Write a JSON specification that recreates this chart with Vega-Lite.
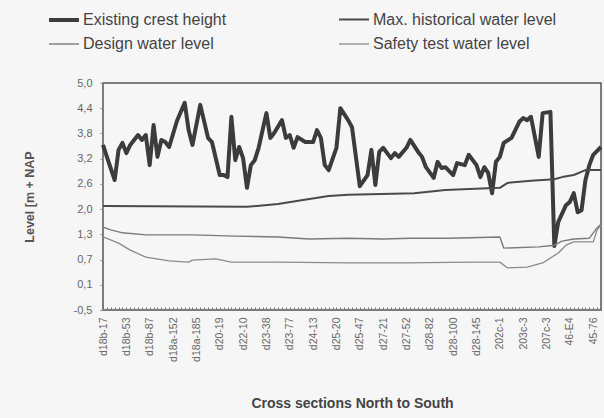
{
  "$schema": "https://vega.github.io/schema/vega-lite/v6.json",
  "width": 498,
  "height": 227,
  "autosize": {"type": "none"},
  "padding": {"left": 103, "top": 83, "right": 3, "bottom": 108},
  "background": "#f6f6f6",
  "config": {
    "font": "Liberation Sans",
    "view": {"stroke": "#555555", "strokeWidth": 1.5, "fill": "#f6f6f6"}
  },
  "data": {
    "values": [
      {"series": "Existing crest height", "i": 0, "level": 3.50},
      {"series": "Existing crest height", "i": 1, "level": 3.21},
      {"series": "Existing crest height", "i": 3, "level": 2.65},
      {"series": "Existing crest height", "i": 4, "level": 3.38},
      {"series": "Existing crest height", "i": 5, "level": 3.55},
      {"series": "Existing crest height", "i": 6, "level": 3.30},
      {"series": "Existing crest height", "i": 7, "level": 3.50},
      {"series": "Existing crest height", "i": 9, "level": 3.74},
      {"series": "Existing crest height", "i": 10, "level": 3.62},
      {"series": "Existing crest height", "i": 11, "level": 3.74},
      {"series": "Existing crest height", "i": 12, "level": 3.01},
      {"series": "Existing crest height", "i": 13, "level": 3.98},
      {"series": "Existing crest height", "i": 14, "level": 3.21},
      {"series": "Existing crest height", "i": 15, "level": 3.62},
      {"series": "Existing crest height", "i": 16, "level": 3.57},
      {"series": "Existing crest height", "i": 17, "level": 3.45},
      {"series": "Existing crest height", "i": 19, "level": 4.08},
      {"series": "Existing crest height", "i": 21, "level": 4.52},
      {"series": "Existing crest height", "i": 22, "level": 3.86},
      {"series": "Existing crest height", "i": 23, "level": 3.50},
      {"series": "Existing crest height", "i": 25, "level": 4.47},
      {"series": "Existing crest height", "i": 27, "level": 3.67},
      {"series": "Existing crest height", "i": 28, "level": 3.57},
      {"series": "Existing crest height", "i": 30, "level": 2.77},
      {"series": "Existing crest height", "i": 31, "level": 2.77},
      {"series": "Existing crest height", "i": 32, "level": 2.72},
      {"series": "Existing crest height", "i": 33, "level": 4.18},
      {"series": "Existing crest height", "i": 34, "level": 3.13},
      {"series": "Existing crest height", "i": 35, "level": 3.45},
      {"series": "Existing crest height", "i": 36, "level": 3.18},
      {"series": "Existing crest height", "i": 37, "level": 2.46},
      {"series": "Existing crest height", "i": 38, "level": 3.01},
      {"series": "Existing crest height", "i": 39, "level": 3.13},
      {"series": "Existing crest height", "i": 40, "level": 3.43},
      {"series": "Existing crest height", "i": 42, "level": 4.27},
      {"series": "Existing crest height", "i": 43, "level": 3.67},
      {"series": "Existing crest height", "i": 44, "level": 3.79},
      {"series": "Existing crest height", "i": 46, "level": 4.10},
      {"series": "Existing crest height", "i": 47, "level": 3.67},
      {"series": "Existing crest height", "i": 48, "level": 3.74},
      {"series": "Existing crest height", "i": 49, "level": 3.43},
      {"series": "Existing crest height", "i": 50, "level": 3.69},
      {"series": "Existing crest height", "i": 52, "level": 3.57},
      {"series": "Existing crest height", "i": 54, "level": 3.57},
      {"series": "Existing crest height", "i": 55, "level": 3.86},
      {"series": "Existing crest height", "i": 56, "level": 3.67},
      {"series": "Existing crest height", "i": 57, "level": 3.01},
      {"series": "Existing crest height", "i": 58, "level": 2.89},
      {"series": "Existing crest height", "i": 60, "level": 3.43},
      {"series": "Existing crest height", "i": 61, "level": 4.39},
      {"series": "Existing crest height", "i": 63, "level": 4.10},
      {"series": "Existing crest height", "i": 64, "level": 3.93},
      {"series": "Existing crest height", "i": 66, "level": 2.50},
      {"series": "Existing crest height", "i": 68, "level": 2.77},
      {"series": "Existing crest height", "i": 69, "level": 3.38},
      {"series": "Existing crest height", "i": 70, "level": 2.53},
      {"series": "Existing crest height", "i": 71, "level": 3.33},
      {"series": "Existing crest height", "i": 72, "level": 3.43},
      {"series": "Existing crest height", "i": 74, "level": 3.18},
      {"series": "Existing crest height", "i": 75, "level": 3.30},
      {"series": "Existing crest height", "i": 76, "level": 3.21},
      {"series": "Existing crest height", "i": 78, "level": 3.43},
      {"series": "Existing crest height", "i": 79, "level": 3.62},
      {"series": "Existing crest height", "i": 81, "level": 3.33},
      {"series": "Existing crest height", "i": 82, "level": 3.21},
      {"series": "Existing crest height", "i": 83, "level": 2.96},
      {"series": "Existing crest height", "i": 85, "level": 2.70},
      {"series": "Existing crest height", "i": 86, "level": 3.09},
      {"series": "Existing crest height", "i": 87, "level": 2.94},
      {"series": "Existing crest height", "i": 88, "level": 2.96},
      {"series": "Existing crest height", "i": 90, "level": 2.77},
      {"series": "Existing crest height", "i": 91, "level": 3.06},
      {"series": "Existing crest height", "i": 93, "level": 3.01},
      {"series": "Existing crest height", "i": 94, "level": 3.26},
      {"series": "Existing crest height", "i": 96, "level": 3.01},
      {"series": "Existing crest height", "i": 97, "level": 2.72},
      {"series": "Existing crest height", "i": 98, "level": 2.96},
      {"series": "Existing crest height", "i": 99, "level": 2.82},
      {"series": "Existing crest height", "i": 100, "level": 2.33},
      {"series": "Existing crest height", "i": 101, "level": 3.09},
      {"series": "Existing crest height", "i": 102, "level": 3.21},
      {"series": "Existing crest height", "i": 103, "level": 3.55},
      {"series": "Existing crest height", "i": 105, "level": 3.67},
      {"series": "Existing crest height", "i": 107, "level": 4.06},
      {"series": "Existing crest height", "i": 108, "level": 4.15},
      {"series": "Existing crest height", "i": 109, "level": 4.10},
      {"series": "Existing crest height", "i": 110, "level": 4.18},
      {"series": "Existing crest height", "i": 112, "level": 3.21},
      {"series": "Existing crest height", "i": 113, "level": 4.27},
      {"series": "Existing crest height", "i": 115, "level": 4.30},
      {"series": "Existing crest height", "i": 116, "level": 1.05},
      {"series": "Existing crest height", "i": 117, "level": 1.63},
      {"series": "Existing crest height", "i": 119, "level": 2.04},
      {"series": "Existing crest height", "i": 120, "level": 2.12},
      {"series": "Existing crest height", "i": 121, "level": 2.33},
      {"series": "Existing crest height", "i": 122, "level": 1.87},
      {"series": "Existing crest height", "i": 123, "level": 1.92},
      {"series": "Existing crest height", "i": 124, "level": 2.65},
      {"series": "Existing crest height", "i": 125, "level": 3.01},
      {"series": "Existing crest height", "i": 126, "level": 3.26},
      {"series": "Existing crest height", "i": 128, "level": 3.45},
      {"series": "Max. historical water level", "i": 0, "level": 2.02},
      {"series": "Max. historical water level", "i": 37, "level": 2.00},
      {"series": "Max. historical water level", "i": 45, "level": 2.07},
      {"series": "Max. historical water level", "i": 51, "level": 2.16},
      {"series": "Max. historical water level", "i": 58, "level": 2.26},
      {"series": "Max. historical water level", "i": 63, "level": 2.29},
      {"series": "Max. historical water level", "i": 80, "level": 2.33},
      {"series": "Max. historical water level", "i": 88, "level": 2.41},
      {"series": "Max. historical water level", "i": 102, "level": 2.46},
      {"series": "Max. historical water level", "i": 104, "level": 2.58},
      {"series": "Max. historical water level", "i": 110, "level": 2.63},
      {"series": "Max. historical water level", "i": 116, "level": 2.67},
      {"series": "Max. historical water level", "i": 118, "level": 2.72},
      {"series": "Max. historical water level", "i": 121, "level": 2.77},
      {"series": "Max. historical water level", "i": 124, "level": 2.89},
      {"series": "Max. historical water level", "i": 128, "level": 2.89},
      {"series": "Design water level", "i": 0, "level": 1.51},
      {"series": "Design water level", "i": 2, "level": 1.44},
      {"series": "Design water level", "i": 5, "level": 1.37},
      {"series": "Design water level", "i": 11, "level": 1.32},
      {"series": "Design water level", "i": 23, "level": 1.32},
      {"series": "Design water level", "i": 34, "level": 1.29},
      {"series": "Design water level", "i": 45, "level": 1.27},
      {"series": "Design water level", "i": 53, "level": 1.22},
      {"series": "Design water level", "i": 63, "level": 1.24},
      {"series": "Design water level", "i": 72, "level": 1.22},
      {"series": "Design water level", "i": 79, "level": 1.24},
      {"series": "Design water level", "i": 89, "level": 1.24},
      {"series": "Design water level", "i": 102, "level": 1.27},
      {"series": "Design water level", "i": 103, "level": 1.00},
      {"series": "Design water level", "i": 112, "level": 1.03},
      {"series": "Design water level", "i": 116, "level": 1.07},
      {"series": "Design water level", "i": 118, "level": 1.17},
      {"series": "Design water level", "i": 121, "level": 1.22},
      {"series": "Design water level", "i": 125, "level": 1.24},
      {"series": "Design water level", "i": 127, "level": 1.49},
      {"series": "Design water level", "i": 128, "level": 1.58},
      {"series": "Safety test water level", "i": 0, "level": 1.27},
      {"series": "Safety test water level", "i": 4, "level": 1.12},
      {"series": "Safety test water level", "i": 7, "level": 0.95},
      {"series": "Safety test water level", "i": 11, "level": 0.78},
      {"series": "Safety test water level", "i": 17, "level": 0.69},
      {"series": "Safety test water level", "i": 22, "level": 0.66},
      {"series": "Safety test water level", "i": 23, "level": 0.71},
      {"series": "Safety test water level", "i": 29, "level": 0.74},
      {"series": "Safety test water level", "i": 33, "level": 0.66},
      {"series": "Safety test water level", "i": 45, "level": 0.66},
      {"series": "Safety test water level", "i": 63, "level": 0.64},
      {"series": "Safety test water level", "i": 78, "level": 0.64},
      {"series": "Safety test water level", "i": 95, "level": 0.66},
      {"series": "Safety test water level", "i": 102, "level": 0.66},
      {"series": "Safety test water level", "i": 104, "level": 0.52},
      {"series": "Safety test water level", "i": 109, "level": 0.54},
      {"series": "Safety test water level", "i": 113, "level": 0.64},
      {"series": "Safety test water level", "i": 117, "level": 0.88},
      {"series": "Safety test water level", "i": 119, "level": 1.07},
      {"series": "Safety test water level", "i": 121, "level": 1.15},
      {"series": "Safety test water level", "i": 126, "level": 1.15},
      {"series": "Safety test water level", "i": 127, "level": 1.44},
      {"series": "Safety test water level", "i": 128, "level": 1.56}
    ]
  },
  "mark": {"type": "line", "strokeJoin": "round"},
  "encoding": {
    "x": {
      "field": "i",
      "type": "quantitative",
      "scale": {"domain": [0, 128], "nice": false, "zero": false},
      "axis": {
        "title": "Cross sections North to South",
        "titleFont": "Liberation Sans",
        "titleFontSize": 14,
        "titleFontWeight": "bold",
        "titleColor": "#444444",
        "titleY": 97,
        "titleBaseline": "alphabetic",
        "domain": false,
        "grid": false,
        "tickCount": 128,
        "tickSize": -3,
        "tickColor": "#777777",
        "labelAngle": 270,
        "labelAlign": "right",
        "labelBaseline": "middle",
        "labelPadding": 10,
        "labelFontSize": 10.5,
        "labelColor": "#666666",
        "labelOverlap": false,
        "labelFlush": false,
        "labelExpr": "datum.value % 6 === 0 ? ['d18b-17','d18b-53','d18b-87','d18a-152','d18a-185','d20-19','d22-10','d23-38','d23-77','d24-13','d25-20','d25-47','d27-21','d27-52','d28-82','d28-100','d28-145','202c-1','203c-3','207c-3','46-E4','45-76'][datum.value / 6] : ''"
      }
    },
    "y": {
      "field": "level",
      "type": "quantitative",
      "scale": {"domain": [-0.5, 5.0], "nice": false, "zero": false},
      "axis": {
        "title": "Level  [m + NAP",
        "titleFontSize": 12.5,
        "titleFontWeight": "bold",
        "titleColor": "#555555",
        "titleAngle": -90,
        "titleAlign": "center",
        "titleBaseline": "middle",
        "titleX": -74,
        "titleY": 113.5,
        "domain": false,
        "grid": false,
        "values": [-0.5, 0.111111, 0.722222, 1.333333, 1.944444, 2.555556, 3.166667, 3.777778, 4.388889, 5.0],
        "tickSize": 3,
        "tickColor": "#888888",
        "labelPadding": 8,
        "labelFontSize": 11,
        "labelColor": "#666666",
        "labelOverlap": false,
        "labelFlush": false,
        "labelExpr": "['-0,5','0,1','0,7','1,3','2,0','2,6','3,2','3,8','4,4','5,0'][round((datum.value + 0.5) / 0.611111)]"
      }
    },
    "color": {
      "field": "series",
      "type": "nominal",
      "scale": {
        "domain": ["Existing crest height", "Design water level", "Max. historical water level", "Safety test water level"],
        "range": ["#3c3c3c", "#7a7a7a", "#4a4a4a", "#8a8a8a"]
      },
      "legend": {
        "orient": "none",
        "legendX": -56,
        "legendY": -80,
        "title": null,
        "columns": 2,
        "columnPadding": 108,
        "rowPadding": -8,
        "symbolType": "stroke",
        "symbolSize": 900,
        "labelFontSize": 16,
        "labelColor": "#444444",
        "labelOffset": 2,
        "labelLimit": 300
      }
    },
    "strokeWidth": {
      "field": "series",
      "type": "nominal",
      "scale": {
        "type": "ordinal",
        "domain": ["Existing crest height", "Design water level", "Max. historical water level", "Safety test water level"],
        "range": [4, 1.4, 2, 1.3]
      },
      "legend": null
    }
  }
}
